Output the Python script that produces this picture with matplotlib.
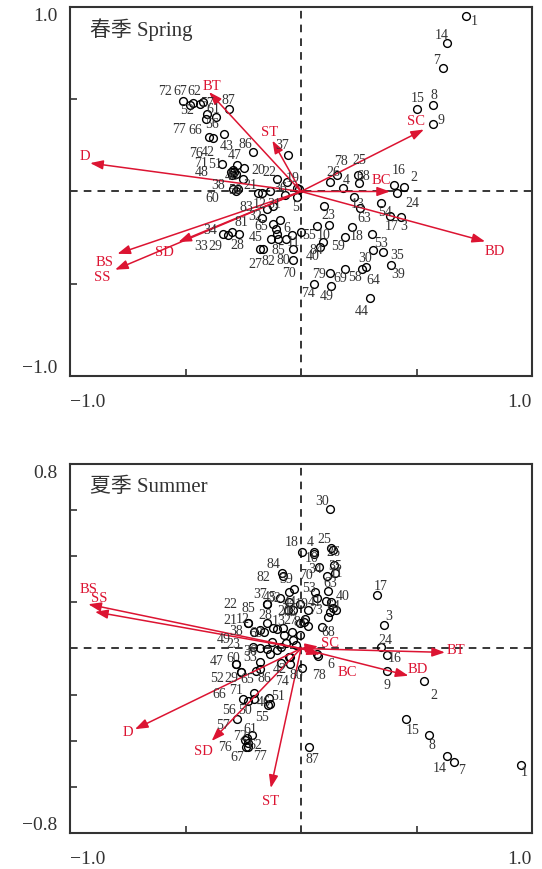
import matplotlib
matplotlib.use('Agg')
import matplotlib.pyplot as plt

plt.rcParams['font.family'] = ['Liberation Serif', 'Noto Sans CJK SC']
plt.rcParams['axes.unicode_minus'] = True

####################
# spring: site scores
spr_lab = ['1', '14', '7', '15', '8', '9', '26', '78', '4', '25', '68', '13', '16', '2', '24', '54',
           '17', '3', '23', '63', '55', '10', '', '18', '59', '84', '40', '53', '30', '35', '39', '79',
           '69', '58', '64', '74', '49', '44', '', '', '5', '19', '36', '22', '20', '21', '50', '38',
           '60', '83', '12', '31', '32', '', '81', '65', '6', '', '', '45', '85', '11', '', '27',
           '82', '80', '70', '33', '29', '34', '28', '72', '67', '52', '62', '57', '61', '', '56', '77',
           '66', '87', '43', '86', '37', '51', '47', '76', '42', '71', '48', '46']
spr_x = [0.713, 0.631, 0.616, 0.501, 0.570, 0.570, 0.126, 0.157, 0.180, 0.245, 0.250, 0.229, 0.403, 0.446, 0.414, 0.346,
         0.385, 0.432, 0.100, 0.255, -0.001, 0.071, 0.123, 0.219, 0.190, 0.097, 0.082, 0.309, 0.310, 0.356, 0.390, 0.126,
         0.190, 0.263, 0.281, 0.056, 0.129, 0.299, -0.009, -0.019, -0.016, -0.059, -0.069, -0.105, -0.245, -0.252, -0.271, -0.293,
         -0.281, -0.185, -0.168, -0.134, -0.146, -0.120, -0.169, -0.120, -0.091, -0.108, -0.105, -0.131, -0.098, -0.038, -0.065, -0.177,
         -0.165, -0.036, -0.033, -0.336, -0.315, -0.300, -0.267, -0.510, -0.469, -0.481, -0.437, -0.424, -0.368, -0.408, -0.411, -0.400,
         -0.382, -0.310, -0.332, -0.209, -0.055, -0.341, -0.278, -0.293, -0.304, -0.289, -0.299, -0.281]
spr_y = [0.949, 0.804, 0.669, 0.448, 0.470, 0.365, 0.053, 0.087, 0.018, 0.087, 0.046, -0.029, 0.033, 0.022, -0.009, -0.061,
         -0.133, -0.139, -0.076, -0.090, -0.220, -0.188, -0.179, -0.190, -0.247, -0.274, -0.301, -0.229, -0.316, -0.328, -0.396, -0.441,
         -0.419, -0.419, -0.410, -0.500, -0.513, -0.578, 0.015, 0.018, -0.030, 0.051, -0.018, 0.069, 0.128, 0.065, 0.011, 0.015,
         0.004, -0.007, -0.007, 0.002, -0.094, -0.076, -0.143, -0.175, -0.157, -0.206, -0.229, -0.256, -0.256, -0.235, -0.260, -0.311,
         -0.311, -0.311, -0.374, -0.229, -0.235, -0.220, -0.233, 0.493, 0.479, 0.470, 0.475, 0.486, 0.403, 0.420, 0.394, 0.293,
         0.289, 0.448, 0.313, 0.214, 0.199, 0.150, 0.145, 0.114, 0.108, 0.105, 0.090, 0.096]
# label offsets (pixels) for spring
spr_off = [(9, -4), (-5, 9), (-7, 9), (1, 11), (1, 10), (8, 5), (3, 10), (4, 15), (4, 9), (2, 16), (4, 8), (4, -7), (5, 16), (10, 11), (16, -9), (4, -9),
           (2, -9), (3, -8), (4, -9), (4, -9), (8, -2), (6, -8), (0, 0), (5, -9), (-7, -8), (-7, -7), (-7, -8), (9, -9), (-8, -8), (14, -3), (7, -9), (-11, -1),
           (-5, -9), (-7, -8), (7, -12), (-6, -9), (-4, -9), (-8, -12), (0, 0), (0, 0), (-2, -9), (5, 5), (-5, 7), (-7, 7), (14, -2), (8, -5), (-3, 0), (-15, 4),
           (-24, -7), (-12, -14), (-2, -11), (4, -12), (-12, -7), (0, 0), (-21, -4), (-12, -2), (7, -7), (0, 0), (0, 0), (-15, 2), (0, -11), (1, -7), (0, 0), (-5, -15),
           (6, -12), (-9, -11), (-4, -12), (-22, -12), (-13, -11), (-22, 3), (-2, -10), (-18, 10), (-12, 13), (-3, -5), (-6, 13), (4, -1), (-3, 9), (0, 0), (6, -5), (-30, 9),
           (-18, 9), (-1, 9), (2, -12), (-7, 9), (-6, 10), (-7, 0), (-2, 10), (-37, 18), (-23, 20), (-33, 10), (-30, 3), (-4, -2)]

# spring: environmental vectors
spr_env = ['BT', 'ST', 'D', 'SC', 'BC', 'BD', 'BS', 'SS', 'SD']
spr_env_x = [-0.398, -0.124, -0.913, 0.532, 0.385, 0.797, -0.795, -0.805, -0.531]
spr_env_y = [0.539, 0.276, 0.154, 0.336, 0.0, -0.271, -0.338, -0.424, -0.274]
spr_env_off = [(3, 7), (-3, 9), (-5, 8), (-8, 9), (-9, 12), (10, -9), (-13, -8), (-13, -7), (-14, -9)]

####################
# summer: site scores
sum_lab = ['30', '18', '4', '25', '26', '10', '35', '34', '70', '11', '84', '82', '39', '32', '53', '41',
           '63', '40', '64', '', '', '', '68', '', '73', '81', '', '48', '20', '44', '19', '45',
           '37', '85', '12', '21', '22', '28', '13', '27', '', '', '', '', '', '', '38', '69',
           '49', '23', '36', '', '', '', '', '', '', '', '', '60', '47', '52', '29', '33',
           '65', '86', '42', '74', '', '80', '78', '6', '71', '66', '56', '50', '46', '51', '55', '57',
           '61', '72', '76', '62', '67', '77', '87', '17', '3', '24', '16', '9', '2', '15', '8', '14',
           '7', '1']
sum_x = [0.126, 0.006, 0.058, 0.129, 0.139, 0.056, 0.144, 0.079, 0.111, 0.147, -0.084, -0.078, -0.029, -0.052, 0.061, 0.068,
         0.116, 0.130, 0.140, 0.108, 0.152, 0.126, 0.092, 0.118, 0.029, 0.017, 0.032, -0.033, -0.055, -0.051, -0.004, -0.091,
         -0.146, -0.146, -0.228, -0.202, -0.228, -0.148, -0.120, -0.040, -0.105, -0.077, -0.004, 0.014, -0.004, -0.074, -0.177, -0.160,
         -0.206, -0.177, -0.148, -0.134, -0.105, -0.088, -0.048, -0.065, -0.035, -0.022, -0.126, -0.281, -0.281, -0.260, -0.260, -0.177,
         -0.195, -0.177, -0.085, -0.048, -0.051, 0.003, 0.068, 0.075, -0.202, -0.203, -0.252, -0.231, -0.134, -0.137, -0.142, -0.276,
         -0.213, -0.235, -0.242, -0.228, -0.239, -0.228, 0.035, 0.328, 0.361, 0.346, 0.371, 0.371, 0.532, 0.453, 0.553, 0.634,
         0.662, 0.951]
sum_y = [0.603, 0.420, 0.420, 0.437, 0.425, 0.408, 0.362, 0.355, 0.316, 0.329, 0.329, 0.313, 0.260, 0.247, 0.243, 0.220,
         0.249, 0.200, 0.177, 0.205, 0.166, 0.159, 0.094, 0.135, 0.169, 0.130, 0.099, 0.169, 0.166, 0.203, 0.195, 0.217,
         0.192, 0.192, 0.112, 0.072, 0.112, 0.112, 0.087, 0.072, 0.084, 0.087, 0.109, 0.116, 0.058, 0.058, 0.079, 0.072,
         0.007, 0.000, -0.004, -0.022, -0.007, 0.007, -0.036, 0.022, 0.039, 0.017, 0.030, -0.069, -0.069, -0.101, -0.101, -0.058,
         -0.099, -0.087, -0.064, -0.069, -0.036, -0.084, -0.022, -0.032, -0.195, -0.217, -0.221, -0.229, -0.239, -0.214, -0.246, -0.307,
         -0.376, -0.388, -0.398, -0.408, -0.427, -0.427, -0.427, 0.234, 0.104, 0.007, -0.029, -0.097, -0.140, -0.304, -0.376, -0.466,
         -0.492, -0.506]
# label offsets (pixels) for summer
sum_off = [(-8, 9), (-11, 10), (-4, 10), (-7, 9), (0, -1), (-2, -3), (1, 0), (-4, -2), (-21, 1), (2, 0), (-8, 9), (-20, 0), (-8, 10), (-15, -6), (-6, 5), (-2, -4),
           (2, 9), (12, 7), (0, 2), (0, 0), (0, 0), (0, 0), (6, -5), (0, 0), (8, 0), (-5, -3), (0, 0), (-4, -2), (-4, 0), (1, 0), (2, 0), (-10, 2),
           (-7, 11), (-19, -3), (-6, 4), (-24, 12), (-18, 19), (-2, 8), (5, 8), (-1, 12), (0, 0), (0, 0), (0, 0), (0, 0), (0, 0), (0, 0), (-24, 0), (-8, -1),
           (-30, 8), (-27, 5), (-17, -1), (0, 0), (0, 0), (0, 0), (0, 0), (0, 0), (0, 0), (0, 0), (0, 0), (-3, 7), (-19, 4), (-24, -6), (-10, -6), (-10, 5),
           (-9, -7), (4, -9), (-2, -5), (-8, -16), (0, 0), (-5, -7), (2, -21), (12, -8), (-18, 4), (-35, 5), (-14, -10), (-3, -8), (-6, 2), (9, 2), (-6, -11), (-14, -5),
           (-2, 7), (-7, 2), (-20, -6), (7, -2), (-9, -10), (12, -9), (3, -12), (4, 9), (4, 9), (4, 7), (8, -2), (0, -14), (10, -14), (7, -11), (3, -9), (-8, -12),
           (8, -8), (4, -6)]

# summer: environmental vectors
sum_env = ['BS', 'SS', 'D', 'SD', 'ST', 'SC', 'BC', 'BT', 'BD']
sum_env_x = [-0.921, -0.892, -0.719, -0.387, -0.131, 0.074, 0.082, 0.623, 0.465]
sum_env_y = [0.192, 0.159, -0.350, -0.401, -0.605, 0.009, -0.026, -0.017, -0.118]
sum_env_off = [(0, 16), (4, 14), (-7, -2), (-8, -10), (0, -12), (12, 4), (27, -17), (11, 3), (9, 7)]

####################

red = '#dc1432'
txt = '#333333'


def biplot(ax, lab, xs, ys, offs, env, ex, ey, eoffs, lim, ticks, title):
    ax.axhline(0, color='k', lw=1.1, ls=(0, (5, 4)), zorder=1)
    ax.axvline(0, color='k', lw=1.1, ls=(0, (5, 4)), zorder=1)

    ax.plot(xs, ys, 'o', ms=5.6, mfc='none', mec='k', mew=1.0, zorder=2)
    for t, x, y, o in zip(lab, xs, ys, offs):
        if t:
            ax.annotate(t, (x, y), xytext=o, textcoords='offset pixels',
                        ha='center', va='center', fontsize=10, color=txt, zorder=4)

    for t, x, y, o in zip(env, ex, ey, eoffs):
        ax.annotate('', xy=(x, y), xytext=(0, 0),
                    arrowprops=dict(arrowstyle='-|>,head_length=0.7,head_width=0.25',
                                    color=red, lw=1.1, mutation_scale=11,
                                    shrinkA=0, shrinkB=0), zorder=3)
        ax.annotate(t, (x, y), xytext=o, textcoords='offset pixels',
                    ha='center', va='center', fontsize=10.5, color=red, zorder=4)

    ax.set_xlim(-1, 1)
    ax.set_ylim(-lim, lim)
    ax.set_xticks([-1, -0.5, 0.5, 1])
    ax.set_xticklabels(['\u22121.0', '', '', '1.0'], fontsize=14)
    ax.set_yticks(ticks)
    ylabs = [''] * len(ticks)
    ylabs[0] = '\u2212%.1f' % lim
    ylabs[-1] = '%.1f' % lim
    ax.set_yticklabels(ylabs, fontsize=14)
    xl = ax.get_xticklabels()
    xl[0].set_ha('left')
    xl[-1].set_ha('right')
    yl = ax.get_yticklabels()
    yl[0].set_va('bottom')
    yl[-1].set_va('top')
    ax.tick_params(direction='in', length=5, width=1.2, colors='#333', labelcolor=txt)
    ax.tick_params(axis='x', pad=12)
    ax.tick_params(axis='y', pad=9)
    for s in ax.spines.values():
        s.set_linewidth(1.5)
        s.set_color('#333')
    ax.text(0.043, 0.94, title, transform=ax.transAxes, fontsize=15,
            ha='left', va='center', color=txt)


fig = plt.figure(figsize=(5.42, 8.7), dpi=100)
ax1 = fig.add_axes([0.1292, 0.5667, 0.8524, 0.4241])
ax2 = fig.add_axes([0.1292, 0.0414, 0.8524, 0.4241])

biplot(ax1, spr_lab, spr_x, spr_y, spr_off, spr_env, spr_env_x, spr_env_y, spr_env_off,
       1.0, [-1, -0.5, 0.5, 1], '春季 Spring')
biplot(ax2, sum_lab, sum_x, sum_y, sum_off, sum_env, sum_env_x, sum_env_y, sum_env_off,
       0.8, [-0.8, -0.6, -0.4, -0.2, 0.2, 0.4, 0.6, 0.8], '夏季 Summer')

fig.savefig('out.png', dpi=100)
